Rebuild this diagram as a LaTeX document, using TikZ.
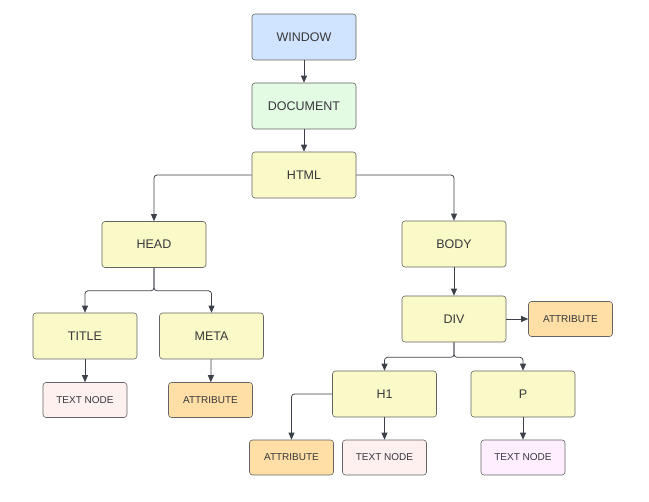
\documentclass[tikz,border=0pt]{standalone}
\usepackage{fontspec}
\setmainfont{Liberation Sans}
\usetikzlibrary{positioning,arrows.meta}
\definecolor{WinBlue}{RGB}{209,228,255}
\definecolor{DocGreen}{RGB}{227,250,227}
\definecolor{TagYellow}{RGB}{250,250,200}
\definecolor{AttrOrange}{RGB}{255,223,166}
\definecolor{TextPink}{RGB}{255,240,240}
\definecolor{TextLilac}{RGB}{255,238,255}
\definecolor{EdgeGray}{RGB}{60,64,72}
\definecolor{BoxGray}{RGB}{100,100,100}
\definecolor{LabelGray}{RGB}{55,55,60}

\tikzset{
  bigbox/.style={rectangle, draw=BoxGray, line width=0.6pt, rounded corners=3pt,
    minimum width=104pt, minimum height=46pt, text=LabelGray, font=\fontsize{12.5}{14}\selectfont},
  smallbox/.style={rectangle, draw=BoxGray, line width=0.6pt, rounded corners=3pt,
    minimum width=84pt, minimum height=35pt, text=LabelGray, font=\fontsize{10}{12}\selectfont},
  link/.style={-{Triangle[length=7pt,width=6pt]}, draw=EdgeGray, line width=0.75pt, rounded corners=3pt}
}

\begin{document}
\begin{tikzpicture}[x=1pt, y=-1pt]
  \useasboundingbox (0,0) rectangle (649,502);

  \node[bigbox, fill=WinBlue] (window) at (304, 37) {WINDOW};
  \node[bigbox, fill=DocGreen] (doc) at (304, 106) {DOCUMENT};
  \draw[link] (window) -- (doc);
  \node[bigbox, fill=TagYellow] (html) at (304, 175) {HTML};
  \draw[link] (doc) -- (html);

  \node[bigbox, fill=TagYellow] (head) at (154, 244.5) {HEAD};
  \draw[link] (html.west) -| (head.north);
  \node[bigbox, fill=TagYellow] (title) at (85, 336) {TITLE};
  \draw[link] (head.south) -- ++(0,23) -| (title.north);
  \node[bigbox, fill=TagYellow] (meta) at (211.5, 336) {META};
  \draw[link] (head.south) -- ++(0,23) -| (meta.north);
  \node[smallbox, fill=TextPink] (txt1) at (85, 400) {TEXT NODE};
  \draw[link] (title) -- (txt1);
  \node[smallbox, fill=AttrOrange] (attr1) at (210.5, 400) {ATTRIBUTE};
  \draw[link] (meta) -- (attr1);

  \node[bigbox, fill=TagYellow] (body) at (454, 244) {BODY};
  \draw[link] (html.east) -| (body.north);
  \node[bigbox, fill=TagYellow] (div) at (454, 319) {DIV};
  \draw[link] (body) -- (div);
  \node[smallbox, fill=AttrOrange] (attr2) at (570.5, 319) {ATTRIBUTE};
  \draw[link] (div) -- (attr2);
  \node[bigbox, fill=TagYellow] (h1) at (384.5, 394) {H1};
  \draw[link] (div.south) -- ++(0,15) -| (h1.north);
  \node[bigbox, fill=TagYellow] (p) at (523, 394) {P};
  \draw[link] (div.south) -- ++(0,15) -| (p.north);

  \node[smallbox, fill=AttrOrange] (attr3) at (291.5, 457.5) {ATTRIBUTE};
  \draw[link] (h1.west) -| (attr3.north);
  \node[smallbox, fill=TextPink] (txt2) at (384.5, 457.5) {TEXT NODE};
  \draw[link] (h1) -- (txt2);
  \node[smallbox, fill=TextLilac] (txt3) at (523, 457.5) {TEXT NODE};
  \draw[link] (p) -- (txt3);
\end{tikzpicture}
\end{document}
